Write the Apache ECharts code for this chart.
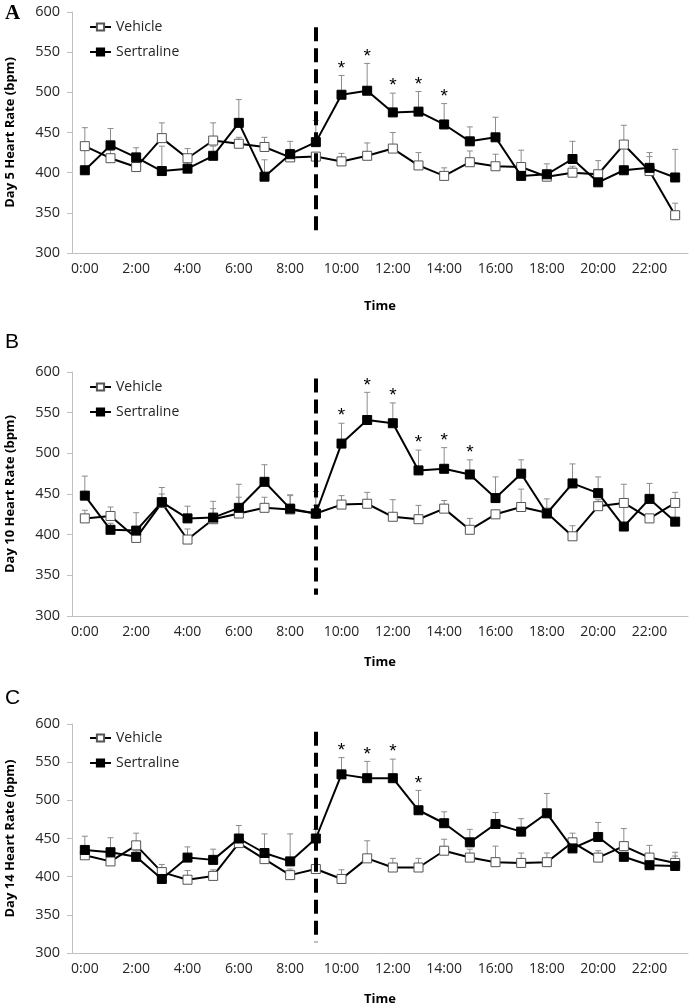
<!DOCTYPE html>
<html>
<head>
<meta charset="utf-8">
<script src="https://cdn.jsdelivr.net/npm/echarts@6/dist/echarts.min.js"></script>
<style>
  html, body { margin: 0; padding: 0; background: #fff; }
  #main { width: 694px; height: 1006px; }
</style>
</head>
<body>
<div id="main"></div>
<script>
// time of day categories
var hours = ['0:00', '1:00', '2:00', '3:00', '4:00', '5:00', '6:00', '7:00', '8:00', '9:00', '10:00', '11:00',
  '12:00', '13:00', '14:00', '15:00', '16:00', '17:00', '18:00', '19:00', '20:00', '21:00', '22:00', '23:00'];
var yTicks = [300, 350, 400, 450, 500, 550, 600];

// Day 5
var vehA = [433, 418, 407, 443, 418, 440, 436, 432, 419, 420, 414, 421, 430, 409, 396, 413, 408, 407, 395, 400, 398, 435, 402, 347];
var serA = [403, 434, 419, 402, 405, 421, 462, 395, 423, 438, 497, 502, 475, 476, 460, 439, 444, 396, 398, 417, 388, 403, 406, 394];
var vehErrA = [23, 10, 8, 19, 12, 22, 8, 12, 10, 5, 10, 16, 20, 16, 10, 14, 15, 21, 7, 8, 17, 24, 18, 15];
var serErrA = [30, 21, 12, 31, 8, 12, 29, 21, 16, 27, 24, 34, 24, 25, 26, 18, 25, 8, 13, 22, 12, 28, 19, 35];
var sigA = [10, 11, 12, 13, 14];

// Day 10
var vehB = [420, 423, 396, 439, 394, 419, 426, 433, 431, 426, 437, 438, 422, 419, 432, 406, 425, 434, 427, 398, 435, 439, 420, 439];
var serB = [448, 406, 405, 440, 420, 421, 433, 465, 432, 426, 512, 541, 537, 479, 481, 474, 445, 475, 426, 463, 451, 410, 444, 416];
var vehErrB = [10, 11, 5, 11, 13, 13, 20, 13, 17, 10, 11, 14, 21, 17, 10, 14, 5, 22, 5, 13, 8, 23, 5, 13];
var serErrB = [24, 8, 22, 18, 15, 20, 29, 21, 17, 27, 25, 34, 25, 25, 26, 18, 26, 17, 18, 24, 20, 28, 19, 20];
var sigB = [10, 11, 12, 13, 14, 15];

// Day 14
var vehC = [428, 420, 441, 406, 396, 401, 444, 423, 402, 410, 397, 424, 412, 412, 434, 425, 419, 418, 419, 445, 425, 440, 425, 418];
var serC = [435, 432, 426, 397, 425, 422, 450, 431, 420, 450, 534, 529, 529, 487, 470, 445, 469, 459, 483, 437, 452, 426, 415, 414];
var vehErrC = [10, 5, 16, 10, 12, 8, 5, 5, 8, 5, 12, 23, 12, 12, 15, 11, 21, 13, 12, 12, 9, 23, 16, 14];
var serErrC = [18, 19, 8, 5, 14, 14, 17, 25, 36, 12, 22, 22, 25, 26, 15, 17, 15, 17, 26, 8, 19, 5, 5, 13];
var sigC = [10, 11, 12, 13];

// vertical dashed line at 9:00 (bottom, top)
var dashA = [320, 581];
var dashB = [326, 592];
var dashC = [314, 590];

var FONT = 'Open Sans';

var panels = [
  {label: 'A', labelFont: 'Liberation Serif', labelWeight: 'bold', labelSize: 21, labelY: 3,
   top: 12, height: 241, legendTop: 15, timeGap: 47, yName: 'Day 5 Heart Rate (bpm)',
   veh: vehA, ser: serA, vehErr: vehErrA, serErr: serErrA, sig: sigA, dash: dashA},
  {label: 'B', labelFont: 'Liberation Sans', labelWeight: 'normal', labelSize: 21, labelY: 332,
   top: 372, height: 244, legendTop: 375, timeGap: 40, yName: 'Day 10 Heart Rate (bpm)',
   veh: vehB, ser: serB, vehErr: vehErrB, serErr: serErrB, sig: sigB, dash: dashB},
  {label: 'C', labelFont: 'Liberation Sans', labelWeight: 'normal', labelSize: 21, labelY: 688,
   top: 724, height: 229, legendTop: 726, timeGap: 40, yName: 'Day 14 Heart Rate (bpm)',
   veh: vehC, ser: serC, vehErr: vehErrC, serErr: serErrC, sig: sigC, dash: dashC}
];

function renderErr(params, api) {
  var p0 = api.coord([api.value(0), api.value(1)]);
  var p1 = api.coord([api.value(0), api.value(1) + api.value(2)]);
  return {
    type: 'group',
    children: [
      {type: 'line', shape: {x1: p0[0], y1: p0[1], x2: p1[0], y2: p1[1]}, style: {stroke: '#8c8c8c', lineWidth: 1}},
      {type: 'line', shape: {x1: p1[0] - 3, y1: p1[1], x2: p1[0] + 3, y2: p1[1]}, style: {stroke: '#8c8c8c', lineWidth: 1}}
    ]
  };
}

function renderStar(params, api) {
  var p = api.coord([api.value(0), api.value(1)]);
  return {
    type: 'text',
    x: p[0],
    y: p[1] - 7,
    style: {text: '*', fill: '#000', font: '19px "Liberation Sans"', align: 'center', verticalAlign: 'middle'}
  };
}

var grids = [], xAxes = [], yAxes = [], legends = [], series = [], graphics = [];

panels.forEach(function (p, i) {
  grids.push({left: 72, right: 6, top: p.top, height: p.height, outerBoundsMode: 'none'});
  xAxes.push({
    type: 'category', gridIndex: i, data: hours, boundaryGap: true,
    name: 'Time', nameLocation: 'middle', nameGap: p.timeGap,
    nameTextStyle: {fontFamily: FONT, fontWeight: 'bold', fontSize: 13, color: '#000'},
    axisLine: {lineStyle: {color: '#c0c0c0', width: 1}},
    axisTick: {interval: 0, length: 5, lineStyle: {color: '#c0c0c0'}},
    axisLabel: {interval: 1, margin: 9, fontFamily: FONT, fontSize: 14, color: '#262626'},
    splitLine: {show: false}
  });
  yAxes.push({
    type: 'value', gridIndex: i, min: yTicks[0], max: yTicks[yTicks.length - 1], interval: 50,
    name: p.yName, nameLocation: 'middle', nameGap: 55,
    nameTextStyle: {fontFamily: FONT, fontWeight: 'bold', fontSize: 13, color: '#000'},
    axisLine: {show: true, lineStyle: {color: '#c0c0c0', width: 1}},
    axisTick: {show: true, length: 5, lineStyle: {color: '#c0c0c0'}},
    axisLabel: {margin: 12, fontFamily: FONT, fontSize: 14.5, color: '#262626'},
    splitLine: {show: false}
  });
  legends.push({
    orient: 'vertical', left: 84, top: p.legendTop, itemWidth: 21, itemHeight: 9, itemGap: 11,
    data: ['Vehicle', 'Sertraline'],
    textStyle: {fontFamily: FONT, fontSize: 14, color: '#262626'},
    selectedMode: false
  });

  var errVeh = p.veh.map(function (v, k) { return [k, v, p.vehErr[k]]; });
  var errSer = p.ser.map(function (v, k) { return [k, v, p.serErr[k]]; });
  var stars = p.sig.map(function (k) { return [k, p.ser[k] + p.serErr[k]]; });

  series.push({
    type: 'custom', xAxisIndex: i, yAxisIndex: i, z: 1, silent: true,
    renderItem: renderErr, encode: {x: 0, y: 1}, data: errVeh
  });
  series.push({
    type: 'custom', xAxisIndex: i, yAxisIndex: i, z: 1, silent: true,
    renderItem: renderErr, encode: {x: 0, y: 1}, data: errSer
  });
  series.push({
    name: 'Vehicle', type: 'line', xAxisIndex: i, yAxisIndex: i, z: 3,
    data: p.veh, symbol: 'rect', symbolSize: 9,
    lineStyle: {color: '#000', width: 2},
    itemStyle: {color: '#fff', borderColor: '#555', borderWidth: 1}
  });
  series.push({
    name: 'Sertraline', type: 'line', xAxisIndex: i, yAxisIndex: i, z: 4,
    data: p.ser, symbol: 'rect', symbolSize: 9,
    lineStyle: {color: '#000', width: 2},
    itemStyle: {color: '#000', borderColor: '#000', borderWidth: 1},
    markLine: {
      silent: true, symbol: 'none', label: {show: false},
      lineStyle: {color: '#000', width: 4, type: [14, 7]},
      data: [[{coord: [9, p.dash[1]]}, {coord: [9, p.dash[0]]}]]
    }
  });
  series.push({
    type: 'custom', xAxisIndex: i, yAxisIndex: i, z: 5, silent: true,
    renderItem: renderStar, encode: {x: 0, y: 1}, data: stars
  });

  graphics.push({
    type: 'text', left: 5, top: p.labelY,
    style: {text: p.label, font: p.labelWeight + ' ' + p.labelSize + 'px "' + p.labelFont + '"', fill: '#000'}
  });
});

var chart = echarts.init(document.getElementById('main'), null, {renderer: 'canvas'});
chart.setOption({
  animation: false,
  backgroundColor: '#fff',
  grid: grids,
  xAxis: xAxes,
  yAxis: yAxes,
  legend: legends,
  series: series,
  graphic: graphics
});
</script>
</body>
</html>
